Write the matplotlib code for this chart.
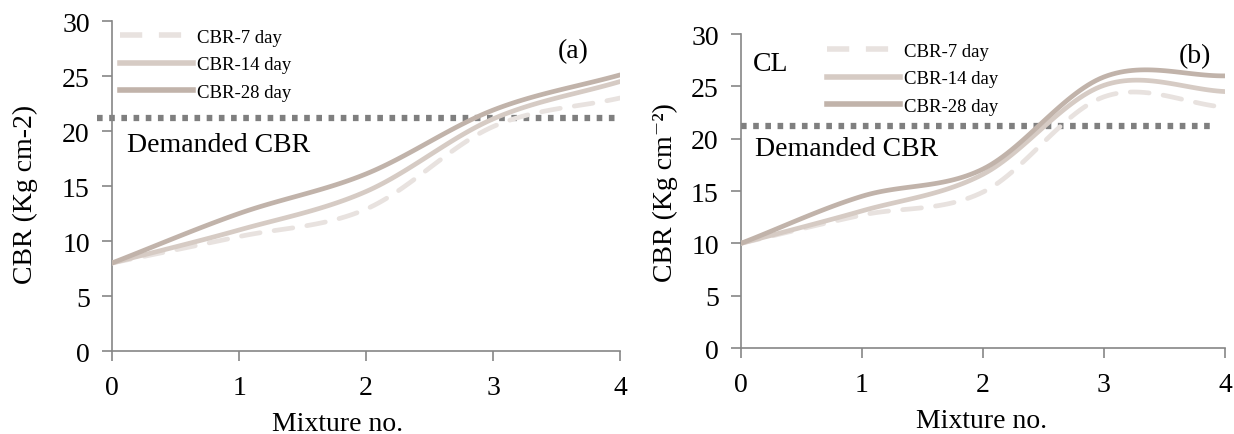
import numpy as np
import matplotlib
matplotlib.use("Agg")
import matplotlib.pyplot as plt
from matplotlib.lines import Line2D

plt.rcParams["font.family"] = ["Liberation Serif", "DejaVu Serif"]

mixture = [0, 1, 2, 3, 4]
labels = ["CBR-7 day", "CBR-14 day", "CBR-28 day"]

# panel (a)
cbr_a_7 = [8.0, 10.4, 12.9, 20.4, 23.0]
cbr_a_14 = [8.0, 11.0, 14.5, 21.1, 24.5]
cbr_a_28 = [8.0, 12.5, 16.1, 21.9, 25.1]

# panel (b) - CL
cbr_b_7 = [10.0, 12.7, 14.9, 24.0, 23.0]
cbr_b_14 = [10.0, 13.1, 16.6, 25.1, 24.5]
cbr_b_28 = [10.0, 14.5, 17.1, 25.9, 26.0]

demanded = 21.2

colors = ["#e8e2df", "#d6cbc4", "#c1b3aa"]
styles = [(0, (4, 3)), "-", "-"]
FS = 20


def smooth(x, y, n=30):
    """Excel-like smoothed line (Catmull-Rom through the points)."""
    x = np.asarray(x, float)
    y = np.asarray(y, float)
    px = np.concatenate([[2 * x[0] - x[1]], x, [2 * x[-1] - x[-2]]])
    py = np.concatenate([[2 * y[0] - y[1]], y, [2 * y[-1] - y[-2]]])
    xs, ys = [], []
    t = np.linspace(0, 1, n, endpoint=False)
    for i in range(1, len(px) - 2):
        for arr, out in ((px, xs), (py, ys)):
            p0, p1, p2, p3 = arr[i - 1], arr[i], arr[i + 1], arr[i + 2]
            m1 = (p2 - p0) / 2
            m2 = (p3 - p1) / 2
            h00 = 2 * t**3 - 3 * t**2 + 1
            h10 = t**3 - 2 * t**2 + t
            h01 = -2 * t**3 + 3 * t**2
            h11 = t**3 - t**2
            out.extend(h00 * p1 + h10 * m1 + h01 * p2 + h11 * m2)
    xs.append(x[-1])
    ys.append(y[-1])
    return np.array(xs), np.array(ys)


fig = plt.figure(figsize=(12.34, 4.35), dpi=100)
ax_a = fig.add_axes([0.0908, 0.1908, 0.4117, 0.7586])
ax_b = fig.add_axes([0.6005, 0.1977, 0.3922, 0.7218])

panels = [
    (ax_a, [cbr_a_7, cbr_a_14, cbr_a_28], "CBR (Kg cm-2)", (-0.12, 4.0),
     (-0.171, 0.476), (0.443, -0.221)),
    (ax_b, [cbr_b_7, cbr_b_14, cbr_b_28], "CBR (Kg cm\u207b\u00b2)", (0.0, 3.9),
     (-0.157, 0.497), (0.498, -0.23)),
]

for ax, series, ylab, dspan, ylpos, xlpos in panels:
    for vals, c, ls, lab in zip(series, colors, styles, labels):
        sx, sy = smooth(mixture, vals)
        ax.plot(sx, sy, color=c, lw=3.4, ls=ls, solid_capstyle="round",
                dash_capstyle="round", label=lab, zorder=3)
    ax.plot(list(dspan), [demanded, demanded], color="#7f7f7f", lw=4.5,
            ls=(0, (0.9, 1.05)), clip_on=False, zorder=2)
    ax.set_xlim(0, 4)
    ax.set_ylim(0, 30)
    ax.set_xticks(mixture)
    ax.set_yticks(range(0, 31, 5))
    for s in ("top", "right"):
        ax.spines[s].set_visible(False)
    for s in ("left", "bottom"):
        ax.spines[s].set_color("#868686")
        ax.spines[s].set_linewidth(1.2)
    ax.tick_params(direction="out", length=7, width=1.2, color="#868686",
                   labelsize=FS)
    ax.tick_params(axis="y", pad=9)
    ax.tick_params(axis="x", pad=10)
    ax.set_xlabel("Mixture no.", fontsize=FS)
    ax.set_ylabel(ylab, fontsize=FS)
    ax.yaxis.set_label_coords(*ylpos)
    ax.xaxis.set_label_coords(*xlpos)
    ax.xaxis.label.set_va("center")
    ax.yaxis.label.set_va("center")

ax_a.text(0.907, 0.91, "(a)", transform=ax_a.transAxes, fontsize=FS, ha="center", va="center")
ax_a.text(0.03, 0.627, "Demanded CBR", transform=ax_a.transAxes, fontsize=FS, va="center")
ax_b.text(0.938, 0.93, "(b)", transform=ax_b.transAxes, fontsize=FS, ha="center", va="center")
ax_b.text(0.025, 0.905, "CL", transform=ax_b.transAxes, fontsize=FS, va="center")
ax_b.text(0.029, 0.634, "Demanded CBR", transform=ax_b.transAxes, fontsize=FS, va="center")

handles = [Line2D([0], [0], color=c, lw=4, ls=ls) for c, ls in zip(colors, styles)]
leg_kw = dict(fontsize=13.5, handlelength=3.9, handletextpad=0.2, labelspacing=0.55,
              borderpad=0.25, borderaxespad=0, bbox_transform=fig.transFigure)
leg_a = ax_a.legend(handles, labels, loc="upper left",
                    bbox_to_anchor=(115 / 1234, 1 - 25 / 435), frameon=True, **leg_kw)
leg_a.get_frame().set_edgecolor("none")
leg_a.get_frame().set_facecolor("white")
leg_a.get_frame().set_alpha(1)
leg_a.set_zorder(5)
ax_b.legend(handles, labels, loc="upper left",
            bbox_to_anchor=(822 / 1234, 1 - 39 / 435), frameon=False, **leg_kw)

fig.savefig("out.png", dpi=100, facecolor="white")
